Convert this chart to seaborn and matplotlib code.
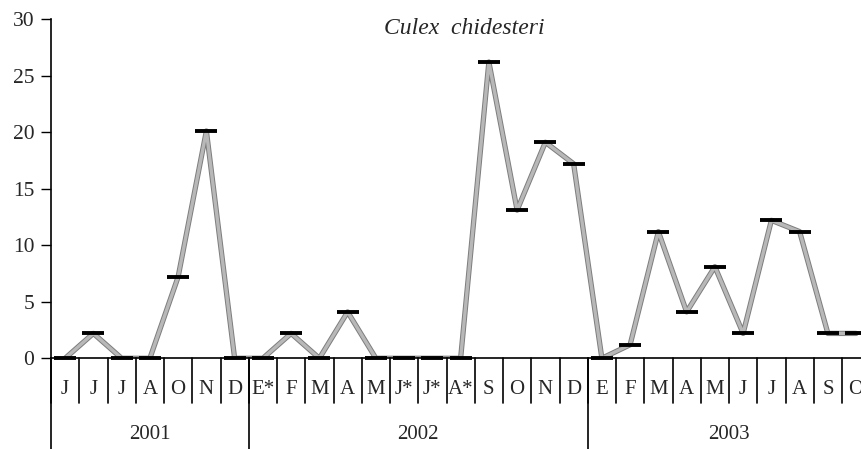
import pandas as pd
import matplotlib.pyplot as plt
import matplotlib.transforms as mtransforms
import matplotlib.patheffects as pe
import seaborn as sns

# Month labels per year (as printed on the chart)
months_2001 = ['J', 'J', 'J', 'A', 'O', 'N', 'D']
months_2002 = ['E*', 'F', 'M', 'A', 'M', 'J*', 'J*', 'A*', 'S', 'O', 'N', 'D']
months_2003 = ['E', 'F', 'M', 'A', 'M', 'J', 'J', 'A', 'S', 'O']
years = ['2001', '2002', '2003']

# Values
values_2001 = [0, 2.2, 0, 0, 7.2, 20.1, 0]
values_2002 = [0, 2.2, 0, 4.1, 0, 0, 0, 0, 26.2, 13.1, 19.1, 17.2]
values_2003 = [0, 1.2, 11.2, 4.1, 8.1, 2.2, 12.2, 11.2, 2.2, 2.2]

month_labels = months_2001 + months_2002 + months_2003
values = values_2001 + values_2002 + values_2003
year_sizes = [len(months_2001), len(months_2002), len(months_2003)]

df = pd.DataFrame({'pos': range(len(values)), 'value': values})

sns.set_theme(style='white')
plt.rcParams['font.family'] = ['Liberation Serif', 'DejaVu Serif']

fig = plt.figure(figsize=(8.61, 4.49), dpi=100)
ax = fig.add_axes([51 / 861, 90.7 / 449, 810 / 861, 339.3 / 449])

sns.lineplot(x='pos', y='value', data=df, ax=ax, color='#b8b8b8', linewidth=2.4,
             path_effects=[pe.Stroke(linewidth=3.8, foreground='#7d7d7d'), pe.Normal()])
sns.scatterplot(x='pos', y='value', data=df, ax=ax, marker='_', s=230,
                linewidth=2.8, color='black', zorder=5, clip_on=False)

ax.set_xlim(-0.5, -0.5 + 810 / 28.25)
ax.set_ylim(0, 30)
ax.set_yticks(range(0, 31, 5))
ax.set_xticks([])
ax.set_xlabel('')
ax.set_ylabel('')
ax.tick_params(axis='y', direction='out', length=7, width=1, color='black',
               labelsize=15.5, pad=5, left=True)

for side in ['top', 'right']:
    ax.spines[side].set_visible(False)
for side in ['left', 'bottom']:
    ax.spines[side].set_color('black')
    ax.spines[side].set_linewidth(1.2)

# Category axis drawn below the plot: month separators and year separators
trans = mtransforms.blended_transform_factory(ax.transData, ax.transAxes)
month_y = -0.093
bottom = -0.27
for i in range(len(values) + 1):
    ax.plot([i - 0.5, i - 0.5], [0, -0.132], transform=trans, color='black',
            linewidth=1.2, clip_on=False)
for i, lab in enumerate(month_labels):
    ax.text(i, month_y, lab, transform=trans, ha='center', va='center',
            fontsize=15, clip_on=False)

start = 0
for yr, n in zip(years, year_sizes):
    ax.plot([start - 0.5, start - 0.5], [0, bottom], transform=trans,
            color='black', linewidth=1.2, clip_on=False)
    ax.text(start - 0.5 + n / 2, -0.225, yr, transform=trans, ha='center',
            va='center', fontsize=15)
    start += n

ax.text(0.51, 0.973, 'Culex  chidesteri', transform=ax.transAxes, ha='center',
        va='center', fontsize=17, style='italic')

fig.savefig('out.png', dpi=100)
